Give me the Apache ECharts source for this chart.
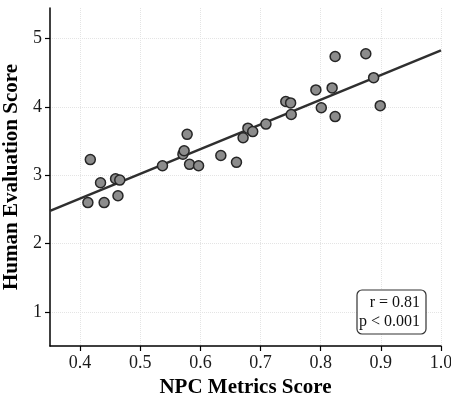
<!DOCTYPE html>
<html>
  <head>
    <meta charset="utf-8" />
    <title>NPC Metrics vs Human Evaluation</title>
    <script src="https://cdn.jsdelivr.net/npm/echarts@6/dist/echarts.min.js"></script>
    <style>
      html, body { margin: 0; padding: 0; background: #ffffff; }
      #main { width: 451px; height: 400px; }
    </style>
  </head>
  <body>
    <div id="main"></div>
    <script>
      // data
      var npcScore = [0.413, 0.417, 0.434, 0.440, 0.459, 0.463, 0.466, 0.537, 0.571, 0.573,
                      0.578, 0.582, 0.597, 0.634, 0.660, 0.671, 0.679, 0.687, 0.709, 0.742,
                      0.750, 0.751, 0.792, 0.801, 0.819, 0.824, 0.824, 0.875, 0.888, 0.899];
      var humanScore = [2.60, 3.23, 2.89, 2.60, 2.95, 2.70, 2.93, 3.14, 3.31, 3.36,
                        3.60, 3.16, 3.14, 3.29, 3.19, 3.55, 3.69, 3.64, 3.75, 4.08,
                        4.06, 3.89, 4.25, 3.99, 4.28, 3.86, 4.74, 4.78, 4.43, 4.02];
      // fitted line end points
      var fitX = [0.35, 1.0];
      var fitY = [2.48, 4.83];
      var xTicks = [0.4, 0.5, 0.6, 0.7, 0.8, 0.9, 1.0];
      var yTicks = [1, 2, 3, 4, 5];
      var statLines = ['r = 0.81', 'p < 0.001'];

      var points = npcScore.map(function (x, i) { return [x, humanScore[i]]; });
      var fitLine = fitX.map(function (x, i) { return [x, fitY[i]]; });

      var serif = 'Liberation Serif';
      var chart = echarts.init(document.getElementById('main'));
      chart.setOption({
        animation: false,
        textStyle: { fontFamily: serif },
        grid: { left: 50, right: 10, top: 8, bottom: 54, outerBoundsMode: 'none', containLabel: false },
        xAxis: {
          type: 'value',
          min: 0.35,
          max: 1.0,
          name: 'NPC Metrics Score',
          nameLocation: 'middle',
          nameGap: 31,
          nameTextStyle: { fontFamily: serif, fontSize: 21, fontWeight: 'bold', color: '#000' },
          axisLine: { lineStyle: { color: '#000', width: 1.5 } },
          axisTick: { length: 5, lineStyle: { color: '#000', width: 1.2 }, customValues: xTicks },
          axisLabel: {
            customValues: xTicks, margin: 8, fontSize: 18, color: '#1a1a1a', fontFamily: serif,
            formatter: function (v) { return v.toFixed(1); }
          },
          splitLine: { show: true, lineStyle: { color: '#e4e4e4', type: 'dotted', width: 1 } }
        },
        yAxis: {
          type: 'value',
          min: 0.5,
          max: 5.45,
          name: 'Human Evaluation Score',
          nameLocation: 'middle',
          nameGap: 24,
          nameTextStyle: { fontFamily: serif, fontSize: 21, fontWeight: 'bold', color: '#000' },
          axisLine: { show: true, lineStyle: { color: '#000', width: 1.5 } },
          axisTick: { show: true, length: 5, lineStyle: { color: '#000', width: 1.2 }, customValues: yTicks },
          axisLabel: { customValues: yTicks, margin: 8, fontSize: 18, color: '#1a1a1a', fontFamily: serif },
          splitLine: { show: true, lineStyle: { color: '#e4e4e4', type: 'dotted', width: 1 } }
        },
        series: [
          {
            type: 'line',
            data: fitLine,
            showSymbol: false,
            z: 2,
            lineStyle: { color: '#2f2f2f', width: 2.5 }
          },
          {
            type: 'scatter',
            data: points,
            symbolSize: 10,
            z: 3,
            itemStyle: { color: '#8c8c8c', borderColor: '#262626', borderWidth: 1.5, opacity: 1 }
          }
        ],
        graphic: [
          {
            type: 'rect',
            shape: { x: 357, y: 290, width: 69, height: 44, r: 5 },
            style: { fill: '#fff', stroke: '#333', lineWidth: 1.2 },
            z: 10
          },
          {
            type: 'text',
            x: 420,
            y: 293,
            z: 11,
            style: {
              text: statLines.join('\n'),
              align: 'right',
              font: '16px "Liberation Serif"',
              lineHeight: 19,
              fill: '#111'
            }
          }
        ]
      });
    </script>
  </body>
</html>
